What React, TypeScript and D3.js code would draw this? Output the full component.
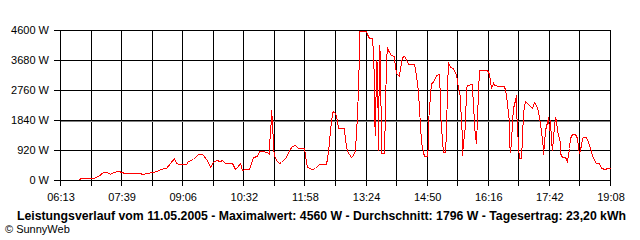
import React from "react";
import * as d3 from "d3";

const times: string[] = [
  "06:40","06:42","06:58","07:00","07:07","07:14","07:19","07:23","07:28","07:35","07:40","07:43",
  "08:06","08:09","08:16","08:22","08:29","08:34","08:43","08:48","08:53","08:57","09:00","09:11",
  "09:14","09:21","09:27","09:33","09:40","09:44","09:49","09:53","09:58","10:01","10:06","10:15",
  "10:19","10:22","10:27","10:30","10:34","10:40","10:45","10:50","10:54","10:58","11:04","11:07",
  "11:08","11:09","11:10","11:11","11:12","11:13","11:15","11:17","11:21","11:25","11:31","11:35",
  "11:40","11:44","11:49","11:57","11:59","12:01","12:08","12:12","12:18","12:28","12:31","12:33",
  "12:36","12:38","12:40","12:43","12:45","12:53","12:55","12:58","13:03","13:06","13:09","13:11",
  "13:13","13:14","13:15","13:24","13:26","13:29","13:33","13:34","13:35","13:36","13:37","13:38",
  "13:40","13:41","13:42","13:44","13:45","13:50","13:51","13:53","13:54","13:57","13:59","14:03",
  "14:04","14:07","14:10","14:12","14:15","14:18","14:21","14:24","14:32","14:35","14:38","14:40",
  "14:41","14:44","14:46","14:50","14:51","14:52","14:54","14:56","14:59","15:03","15:07","15:08",
  "15:09","15:11","15:12","15:16","15:17","15:19","15:20","15:23","15:27","15:31","15:32","15:34",
  "15:36","15:38","15:39","15:40","15:41","15:43","15:45","15:47","15:53","15:54","15:55","15:57",
  "15:58","15:59","16:01","16:02","16:04","16:14","16:17","16:19","16:20","16:23","16:25","16:31",
  "16:38","16:40","16:42","16:45","16:46","16:47","16:48","16:50","16:52","16:54","16:55","16:56",
  "16:57","16:58","17:00","17:03","17:04","17:06","17:08","17:12","17:18","17:21","17:24","17:26",
  "17:28","17:30","17:32","17:33","17:34","17:35","17:37","17:39","17:41","17:42","17:43","17:45",
  "17:46","17:48","17:50","17:52","17:54","17:57","17:58","18:00","18:05","18:08","18:10","18:12",
  "18:14","18:19","18:21","18:23","18:25","18:27","18:28","18:30","18:34","18:37","18:40","18:42",
  "18:45","18:48","18:52","18:55","19:01","19:04","19:08"
];

const watts: number[] = [
  20,50,50,70,120,255,236,184,236,267,245,215,
  215,193,215,245,267,328,368,512,665,512,491,491,
  592,635,788,788,613,389,561,613,592,613,531,531,
  328,389,512,307,328,328,715,736,899,899,868,797,
  1021,1533,1861,2147,1840,1021,767,613,531,561,715,920,
  1052,1073,972,972,561,389,328,359,481,481,868,1533,
  2045,2125,2045,1840,1585,1585,1227,889,696,767,920,1993,
  2812,3935,4560,4560,4468,4364,4364,3935,2913,1941,1380,3680,
  3588,920,4140,3833,828,828,2147,3680,4057,3935,3833,3812,
  3711,3272,3189,3425,3781,3812,3701,3548,3548,3220,2708,1687,
  1175,868,745,736,1125,1788,2607,2965,2996,3220,3241,2453,
  2045,1227,868,868,1481,2812,3609,3475,3425,3220,3067,2812,
  2555,1687,1432,767,1125,1687,2812,2913,2935,2760,2401,1687,
  1380,1125,1892,2708,3373,3373,3241,3067,2831,2965,2913,2892,
  2883,2760,2607,1788,1175,868,1175,1788,2199,2453,2607,2095,
  1687,1021,684,684,1279,2095,2423,2331,2199,2401,2300,2125,
  1941,1739,1227,972,797,1125,1533,1788,1923,1533,1840,1227,
  920,1328,1941,1840,1533,1125,837,696,696,592,972,1279,
  1401,1411,1279,1021,837,1073,1279,1328,1328,1175,972,767,
  613,531,512,359,328,359,359
];

const xTickLabels: string[] = ["06:13","07:39","09:06","10:32","11:58","13:24","14:50","16:16","17:42","19:08"];
const yTicks: number[] = [0, 920, 1840, 2760, 3680, 4600];
const averageW = 1796;
const footerText = "Leistungsverlauf vom 11.05.2005 - Maximalwert: 4560 W - Durchschnitt: 1796 W - Tagesertrag: 23,20 kWh";
const creditText = "\u00A9 SunnyWeb";

const toMin = (s: string) => {
  const [h, m] = s.split(":").map(Number);
  return h * 60 + m;
};

export default function App() {
  const W = 640, H = 240;
  const left = 60, right = 610, top = 30, bottom = 180;
  const t0 = toMin(xTickLabels[0]);
  const t1 = toMin(xTickLabels[xTickLabels.length - 1]);
  const x = d3.scaleLinear().domain([t0, t1]).range([left, right]);
  const y = d3.scaleLinear().domain([0, 4600]).range([bottom, top]);
  const nGrid = (xTickLabels.length - 1) * 2;
  const gridT = d3.range(nGrid + 1).map((i) => t0 + (i * (t1 - t0)) / nGrid);
  const data = times.map((t, i) => ({ t: toMin(t), w: watts[i] }));
  const line = d3
    .line<{ t: number; w: number }>()
    .x((d) => Math.round(x(d.t)) + 0.5)
    .y((d) => Math.round(y(d.w)) + 0.5);
  const px = (v: number) => Math.round(v) + 0.5;
  const font = "'Liberation Sans', Arial, sans-serif";

  return (
    <svg
      width={W}
      height={H}
      style={{ position: "absolute", left: 0, top: 0, background: "#fff" }}
      fontFamily={font}
    >
      <rect x={0} y={0} width={W} height={H} fill="#fff" />
      {gridT.map((t, i) => (
        <line key={"v" + i} x1={px(x(t))} x2={px(x(t))} y1={top} y2={bottom + 6} stroke="#000" strokeWidth={1} shapeRendering="crispEdges" />
      ))}
      {yTicks.map((v) => (
        <line key={"h" + v} x1={left - 6} x2={right + 1} y1={px(y(v))} y2={px(y(v))} stroke="#000" strokeWidth={1} shapeRendering="crispEdges" />
      ))}
      <line x1={left + 1} x2={right} y1={px(y(averageW))} y2={px(y(averageW))} stroke="#808080" strokeWidth={1} shapeRendering="crispEdges" />
      {yTicks.map((v) => (
        <text key={"yl" + v} x={49} y={y(v)} dy="0.35em" textAnchor="end" fontSize={11} fill="#000">
          {v + " W"}
        </text>
      ))}
      {xTickLabels.map((l, i) => (
        <text key={"xl" + l} x={x(gridT[i * 2]) + 1} y={197} dy="0.35em" textAnchor="middle" fontSize={11} fill="#000">
          {l}
        </text>
      ))}
      <path d={line(data) || ""} fill="none" stroke="#ff0000" strokeWidth={1} shapeRendering="crispEdges" />
      <text x={17} y={216} dy="0.35em" fontSize={12} fontWeight="bold" fill="#000" textLength={609} lengthAdjust="spacingAndGlyphs">
        {footerText}
      </text>
      <text x={5} y={229} dy="0.35em" fontSize={11} fill="#000">
        {creditText}
      </text>
    </svg>
  );
}
